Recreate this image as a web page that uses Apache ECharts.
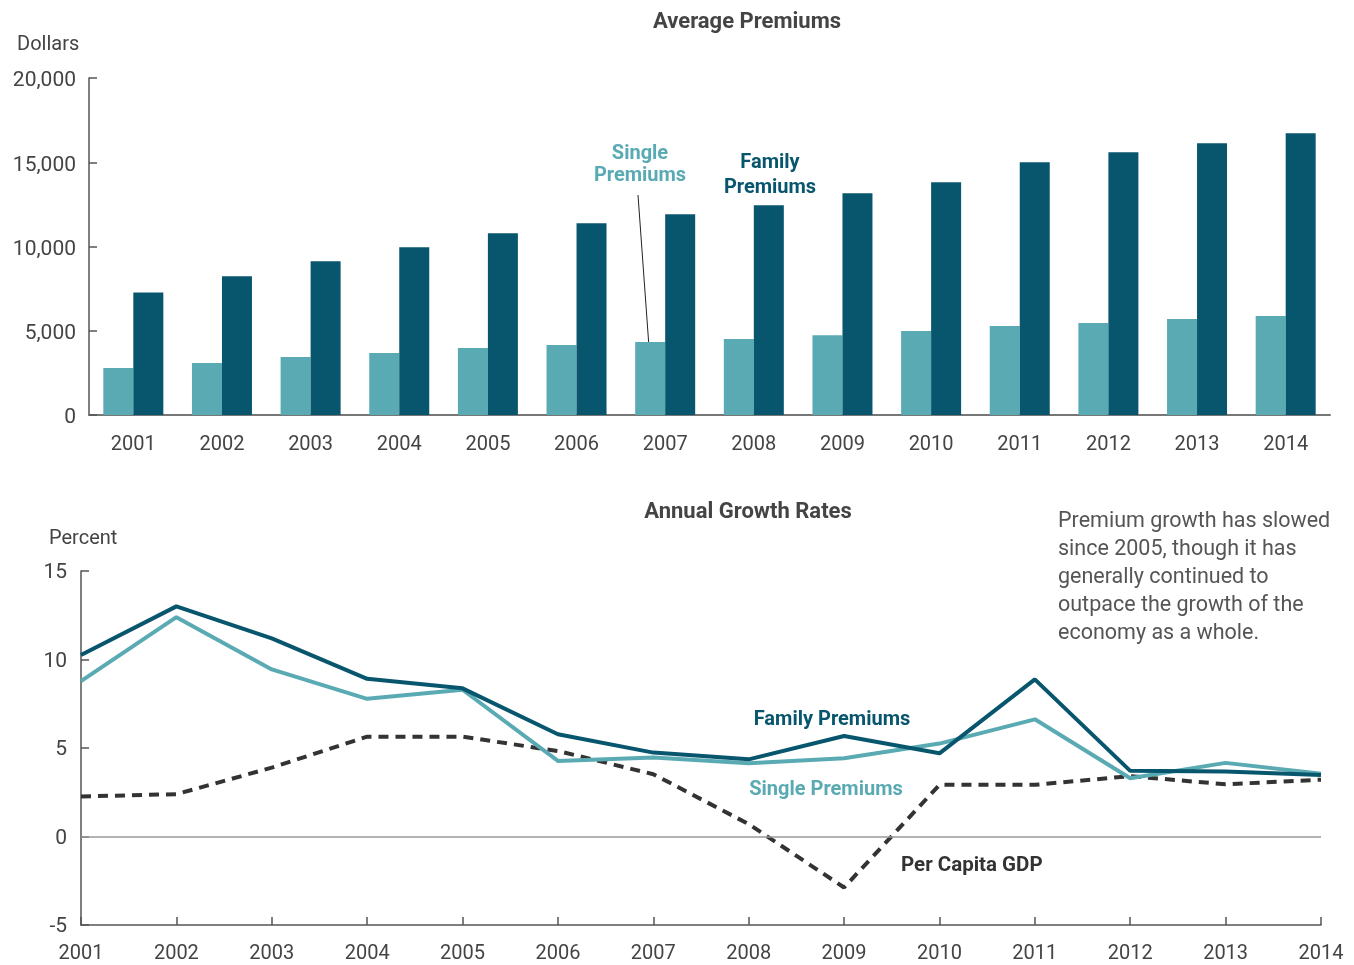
<!DOCTYPE html>
<html>
<head>
<meta charset="utf-8">
<script src="https://cdn.jsdelivr.net/npm/echarts@6/dist/echarts.min.js"></script>
<style>
  html, body { margin: 0; padding: 0; background: #fff; }
  #chart { width: 1354px; height: 965px; }
</style>
</head>
<body>
<div id="chart"></div>
<script>
var years = ['2001', '2002', '2003', '2004', '2005', '2006', '2007',
             '2008', '2009', '2010', '2011', '2012', '2013', '2014'];

// average premiums, dollars
var singlePremiums = [2790, 3080, 3440, 3680, 3970, 4150, 4330,
                      4510, 4740, 4980, 5280, 5460, 5690, 5870];
var familyPremiums = [7270, 8240, 9130, 9960, 10790, 11380, 11920,
                      12450, 13160, 13820, 15000, 15590, 16130, 16720];

// annual growth rates, percent
var familyGrowth = [10.25, 13.0, 11.19, 8.91, 8.37, 5.78, 4.74,
                    4.36, 5.68, 4.7, 8.88, 3.71, 3.67, 3.48];
var singleGrowth = [8.78, 12.39, 9.44, 7.78, 8.29, 4.27, 4.46,
                    4.14, 4.42, 5.25, 6.62, 3.29, 4.16, 3.55];
var gdpGrowth = [2.26, 2.39, 3.89, 5.64, 5.64, 4.83, 3.52,
                 0.7, -2.88, 2.92, 2.92, 3.41, 2.95, 3.21];

var topTicks = [0, 5000, 10000, 15000, 20000];

var LIGHT = '#5aaab3';
var DARK = '#08566e';
var GDP = '#333333';
var FONT = 'Roboto';

var chart = echarts.init(document.getElementById('chart'));

var option = {
    animation: false,
    textStyle: {fontFamily: FONT},
    grid: [
        {left: 89, right: 24, top: 78, height: 337},
        {left: 81, right: 33, top: 571, height: 354}
    ],
    xAxis: [
        {
            type: 'category', gridIndex: 0, data: years,
            axisLine: {lineStyle: {color: '#777', width: 2}},
            axisTick: {show: false},
            axisLabel: {fontSize: 20, color: '#444', margin: 20}
        },
        {
            type: 'category', gridIndex: 1, data: years, boundaryGap: false,
            axisLine: {onZero: false, lineStyle: {color: '#555', width: 1.5}},
            axisTick: {inside: true, length: 8, lineStyle: {color: '#555', width: 1.5}},
            axisLabel: {fontSize: 20, color: '#444', margin: 19}
        }
    ],
    yAxis: [
        {
            type: 'value', gridIndex: 0, min: 0, max: 20000, interval: 5000,
            axisLine: {show: true, lineStyle: {color: '#555', width: 1.5}},
            axisTick: {show: true, inside: true, length: 8, lineStyle: {color: '#555', width: 1.5}},
            splitLine: {show: false},
            axisLabel: {
                fontSize: 21, color: '#444', margin: 13,
                formatter: function (v) {
                    return topTicks.indexOf(v) >= 0 ? '{n|' + v.toLocaleString('en-US') + '}' : '';
                },
                rich: {n: {fontSize: 21, color: '#444', padding: [6, 0, 0, 0], fontFamily: FONT}}
            }
        },
        {
            type: 'value', gridIndex: 1, min: -5, max: 15, interval: 5,
            axisLine: {show: true, onZero: false, lineStyle: {color: '#555', width: 1.5}},
            axisTick: {show: true, inside: true, length: 8, lineStyle: {color: '#555', width: 1.5}},
            splitLine: {show: false},
            axisLabel: {
                fontSize: 21, color: '#444', margin: 14,
                formatter: function (v) { return '{n|' + v + '}'; },
                rich: {n: {fontSize: 21, color: '#444', padding: [4, 0, 0, 0], fontFamily: FONT}}
            }
        }
    ],
    series: [
        {
            name: 'Single Premiums', type: 'bar', xAxisIndex: 0, yAxisIndex: 0,
            data: singlePremiums, barWidth: 30, barGap: '0%',
            itemStyle: {color: LIGHT}
        },
        {
            name: 'Family Premiums', type: 'bar', xAxisIndex: 0, yAxisIndex: 0,
            data: familyPremiums, barWidth: 30, barGap: '0%',
            itemStyle: {color: DARK}
        },
        {
            name: 'Per Capita GDP', type: 'line', xAxisIndex: 1, yAxisIndex: 1,
            data: gdpGrowth, symbol: 'none',
            lineStyle: {color: GDP, width: 4, type: [10, 7]},
            markLine: {
                silent: true, symbol: 'none', label: {show: false},
                lineStyle: {color: '#999', width: 1.5, type: 'solid'},
                data: [{yAxis: 0}]
            },
            z: 2
        },
        {
            name: 'Single Growth', type: 'line', xAxisIndex: 1, yAxisIndex: 1,
            data: singleGrowth, symbol: 'none',
            lineStyle: {color: LIGHT, width: 4},
            z: 3
        },
        {
            name: 'Family Growth', type: 'line', xAxisIndex: 1, yAxisIndex: 1,
            data: familyGrowth, symbol: 'none',
            lineStyle: {color: DARK, width: 4},
            z: 4
        }
    ],
    graphic: [
        {type: 'text', x: 747, y: 11,
         style: {text: 'Average Premiums', fontSize: 22, fontWeight: 'bold', fill: '#444',
                 align: 'center', fontFamily: FONT}},
        {type: 'text', x: 748, y: 501,
         style: {text: 'Annual Growth Rates', fontSize: 22, fontWeight: 'bold', fill: '#444',
                 align: 'center', fontFamily: FONT}},
        {type: 'text', left: 17, top: 35,
         style: {text: 'Dollars', fontSize: 20, fill: '#444', fontFamily: FONT}},
        {type: 'text', left: 49, top: 529,
         style: {text: 'Percent', fontSize: 20, fill: '#444', fontFamily: FONT}},
        {type: 'text', x: 640, y: 143,
         style: {text: 'Single\nPremiums', fontSize: 20, fontWeight: 'bold', fill: LIGHT,
                 align: 'center', lineHeight: 22, fontFamily: FONT}},
        {type: 'text', x: 770, y: 150,
         style: {text: 'Family\nPremiums', fontSize: 20, fontWeight: 'bold', fill: DARK,
                 align: 'center', lineHeight: 25, fontFamily: FONT}},
        {type: 'line', shape: {x1: 638, y1: 195, x2: 651, y2: 375},
         style: {stroke: '#222', lineWidth: 1}},
        {type: 'text', x: 832, y: 710,
         style: {text: 'Family Premiums', fontSize: 20, fontWeight: 'bold', fill: DARK,
                 align: 'center', fontFamily: FONT}},
        {type: 'text', x: 826, y: 780,
         style: {text: 'Single Premiums', fontSize: 20, fontWeight: 'bold', fill: LIGHT,
                 align: 'center', fontFamily: FONT}},
        {type: 'text', x: 901, y: 855,
         style: {text: 'Per Capita GDP', fontSize: 20.5, fontWeight: 'bold', fill: '#333',
                 fontFamily: FONT}},
        {type: 'text', x: 1058, y: 508,
         style: {text: 'Premium growth has slowed\nsince 2005, though it has\ngenerally continued to\noutpace the growth of the\neconomy as a whole.',
                 fontSize: 21.5, lineHeight: 28, fill: '#555', fontFamily: FONT}}
    ]
};

chart.setOption(option);
</script>
</body>
</html>
